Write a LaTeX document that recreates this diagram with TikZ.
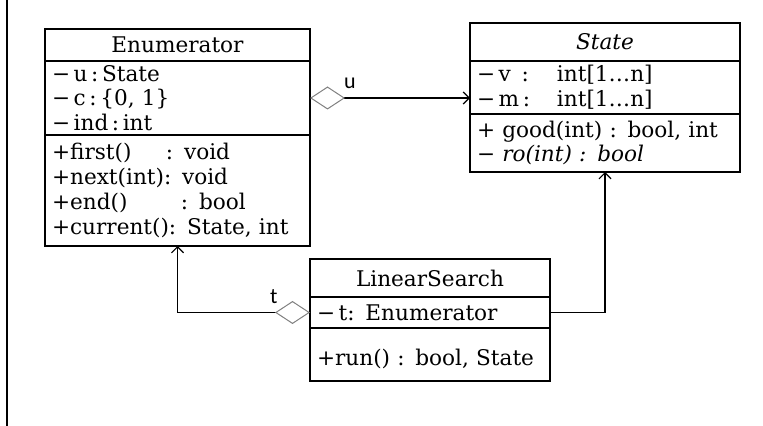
\documentclass[tikz,border=0pt]{standalone}
\usepackage{fontspec}
\setmainfont{DejaVu Serif}
\newfontfamily\rolefont{Carlito}
\usetikzlibrary{positioning,arrows.meta}

\tikzset{
    umlpart/.style={draw, line width=0.7pt, outer sep=0pt,
        inner xsep=3.5pt, inner ysep=0pt,
        text width=#1, minimum width=#1+7pt, align=left,
        font=\fontsize{10.8}{12.35}\selectfont},
    umlname/.style={umlpart=#1, align=center},
    assoc/.style={line width=0.6pt, -{Straight Barb[length=3pt,width=6pt]}},
    aggr/.style={assoc,
        {Diamond[open, color=gray, length=17.5pt, width=11.5pt, line width=0.5pt]}-{Straight Barb[length=3pt,width=6pt]}},
    rolename/.style={font=\rolefont\fontsize{11}{13}\selectfont, inner sep=0pt}
}

\begin{document}
\begin{tikzpicture}[x=0.5pt, y=-0.5pt]
    \useasboundingbox (0,0) rectangle (763,426);

    %----- MARGIN RULE -----
    \draw[line width=1.1pt] (7,0) -- (7,426);

    %----- ENUMERATOR -----
    \node[umlname=125.5pt, minimum height=16pt] (enumName) at (177.5,45) {Enumerator};
    \node[umlpart=125.5pt, minimum height=37pt, below=0pt of enumName] (enumAttr)
        {−\,u\,:\,State\\ −\,c\,:\,\{0, 1\}\\ −\,ind\,:\,int};
    \node[umlpart=125.5pt, minimum height=55.5pt, below=0pt of enumAttr] (enumOps)
        {\makebox[57pt][l]{+first()}: void\\
         +next(int): void\\
         \makebox[64.5pt][l]{+end()}: bool\\
         +current(): State, int};

    %----- STATE (abstract) -----
    \node[umlname=128pt, minimum height=19pt] (stateName) at (605,42) {\textit{State}};
    \node[umlpart=128pt, minimum height=26.5pt, below=0pt of stateName] (stateAttr)
        {\makebox[40pt][l]{−\,v\, :}int[1…n]\\ \makebox[40pt][l]{−\,m\,:}int[1…n]};
    \node[umlpart=128pt, minimum height=29pt, below=0pt of stateAttr] (stateOps)
        {+ good(int) : bool, int\\ − \textit{ro(int) : bool}};

    %----- LINEAR SEARCH -----
    \node[umlname=113pt, minimum height=19pt] (lsName) at (430,278) {LinearSearch};
    \node[umlpart=113pt, minimum height=15.5pt, below=0pt of lsName] (lsAttr)
        {−\,t: Enumerator};
    \node[umlpart=113pt, minimum height=26.5pt, below=0pt of lsAttr] (lsOps)
        {\mbox{}\\ +run() : bool, State};

    %----- ASSOCIATIONS -----
    \draw[aggr] (enumAttr.east)
        -- node[rolename, pos=0.21, anchor=base west, yshift=4.5pt] (uRole) {u}
        (enumAttr.east -| stateAttr.west);
    \draw[aggr] (lsAttr.west)
        -- node[rolename, pos=0.24, anchor=base east, yshift=4.5pt] (tRole) {t}
        (lsAttr.west -| enumOps.south) -- (enumOps.south);
    \draw[assoc] (lsAttr.east) -| (stateOps.south);

\end{tikzpicture}
\end{document}
